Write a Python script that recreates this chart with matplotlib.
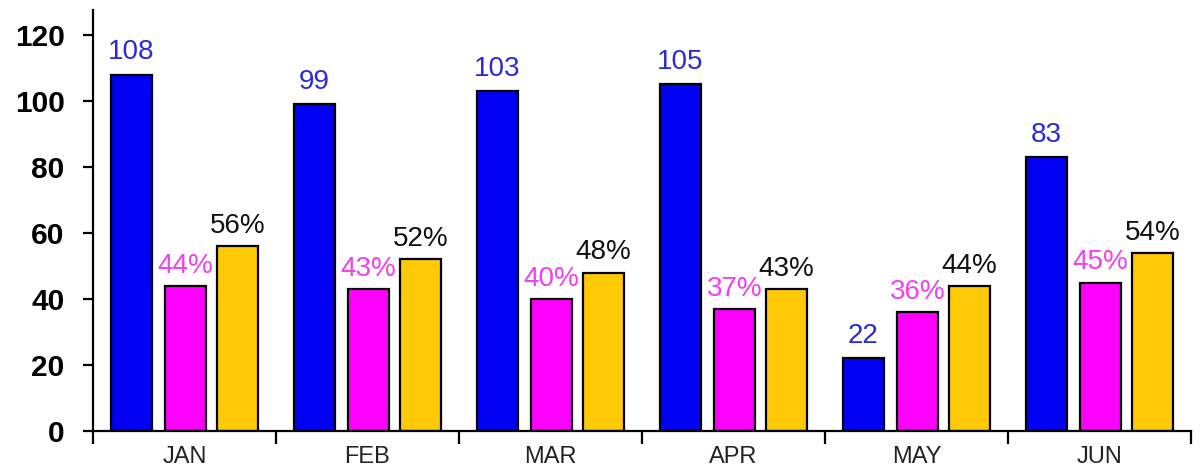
import numpy as np
import matplotlib
matplotlib.use('Agg')
import matplotlib.pyplot as plt

months = ['JAN', 'FEB', 'MAR', 'APR', 'MAY', 'JUN']
counts = [108, 99, 103, 105, 22, 83]
pct_a = [44, 43, 40, 37, 36, 45]
pct_b = [56, 52, 48, 43, 44, 54]

sans = ['Liberation Sans', 'DejaVu Sans']

fig = plt.figure(figsize=(12, 4.76), dpi=100, facecolor='white')
ax = fig.add_axes([0.0775, 0.0945, 0.915, 0.884])

x = np.arange(len(months))
w = 0.225
offs = [0.21, 0.505, 0.79]
# (values, bar colour, label colour, label format, label gap)
series = [
    (counts, '#0000f2', '#2a2ad6', '{:d}', 2.8),
    (pct_a, '#ff00ff', '#f040f0', '{:d}%', 2.2),
    (pct_b, '#ffc905', '#111111', '{:d}%', 2.2),
]
for (vals, fc, tc, fmt, gap), off in zip(series, offs):
    ax.bar(x + off, vals, width=w, color=fc, edgecolor='black', linewidth=1.6)
    for xi, v in zip(x + off, vals):
        ax.text(xi, v + gap, fmt.format(v), ha='center', va='bottom',
                fontsize=20, color=tc, family=sans)

ax.set_xlim(0, 6)
ax.set_ylim(0, 127.5)
ax.set_yticks(range(0, 121, 20))
ax.set_yticklabels([str(v) for v in range(0, 121, 20)], fontsize=21.5,
                   fontweight='bold', family=sans)
ax.set_xticks(np.arange(6) + 0.5)
ax.set_xticklabels(months, fontsize=17, family=sans, color='#222222')
ax.set_xticks(np.arange(7), minor=True)
ax.tick_params(axis='x', which='major', length=0, pad=11)
ax.tick_params(axis='x', which='minor', length=9, width=1.6, direction='out')
ax.tick_params(axis='y', length=7.5, width=1.6, pad=13)

for s in ['top', 'right']:
    ax.spines[s].set_visible(False)
for s in ['left', 'bottom']:
    ax.spines[s].set_linewidth(1.6)

fig.savefig('out.png', dpi=100, facecolor='white')
